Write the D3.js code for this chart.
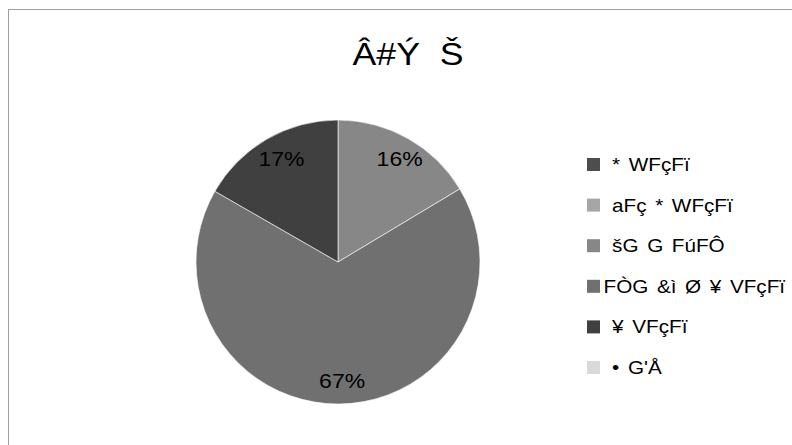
<!DOCTYPE html>
<html>
<head>
<meta charset="utf-8">
<script src="https://cdn.jsdelivr.net/npm/d3@7"></script>
<style>
  html, body { margin: 0; padding: 0; background: #fff; }
  svg { display: block; font-family: "Liberation Sans", Arial, sans-serif; }
  text { white-space: pre; }
</style>
</head>
<body>
<svg id="chart" width="792" height="445"></svg>
<script>
const title = "Â#Ý  Š";
const categories = [" * WFçFï", " aFç * WFçFï", " šG G FúFÔ", "FÒG &ì Ø ¥ VFçFï", " ¥ VFçFï", " • G'Å"];
const values = [0, 0, 16.4, 66.9, 16.7, 0];
const colors = ["#4d4d4d", "#a6a6a6", "#878787", "#707070", "#404040", "#d9d9d9"];

const stretch = 1.15; // horizontal glyph stretch of the source rendering

const svg = d3.select("#chart");

// chart border
svg.append("rect")
  .attr("x", 8.5).attr("y", 9.5)
  .attr("width", 820).attr("height", 460)
  .attr("fill", "#fff")
  .attr("stroke", "#a0a0a0")
  .attr("stroke-width", 1);

// title
svg.append("text")
  .attr("transform", `translate(408,65) scale(${stretch},1)`)
  .attr("text-anchor", "middle")
  .attr("font-size", 31)
  .attr("fill", "#000")
  .attr("xml:space", "preserve")
  .text(title);

const cx = 338, cy = 262, r = 142;
const data = categories.map((c, i) => ({ name: c, value: values[i], color: colors[i] }));
const total = d3.sum(values);

const pie = d3.pie().value(d => d.value).sort(null);
const arcs = pie(data);
const arc = d3.arc().innerRadius(0).outerRadius(r);
const labelArc = d3.arc().innerRadius(119).outerRadius(119);

const g = svg.append("g").attr("transform", `translate(${cx},${cy})`);
g.selectAll("path.slice")
  .data(arcs.filter(a => a.data.value > 0))
  .join("path")
  .attr("class", "slice")
  .attr("d", arc)
  .attr("fill", d => d.data.color)
  .attr("stroke", "#ffffff")
  .attr("stroke-opacity", 0.6)
  .attr("stroke-width", 1);

// labels: laid out centred at natural width, then widened to the right
g.selectAll("text.lbl")
  .data(arcs.filter(a => a.data.value > 0))
  .join("text")
  .attr("class", "lbl")
  .attr("font-size", 20)
  .attr("dy", "0.36em")
  .attr("fill", "#000")
  .text(d => Math.round(d.data.value / total * 100) + "%")
  .each(function(d) {
    const w = this.getComputedTextLength();
    const [x, y] = labelArc.centroid(d);
    d3.select(this).attr("transform", `translate(${x - w / 2},${y}) scale(${stretch},1)`);
  });

// legend
const legendY = d3.scalePoint().domain(categories).range([164.5, 367.5]);
const leg = svg.append("g");
const items = leg.selectAll("g.item").data(data).join("g")
  .attr("class", "item")
  .attr("transform", d => `translate(0,${legendY(d.name)})`);
items.append("rect")
  .attr("x", 587).attr("y", -6.5)
  .attr("width", 13).attr("height", 13)
  .attr("fill", d => d.color);
items.append("text")
  .attr("transform", `translate(603.5,6.5) scale(${stretch},1)`)
  .attr("font-size", 18)
  .attr("word-spacing", 2.5)
  .attr("fill", "#000")
  .attr("xml:space", "preserve")
  .text(d => d.name);
</script>
</body>
</html>
